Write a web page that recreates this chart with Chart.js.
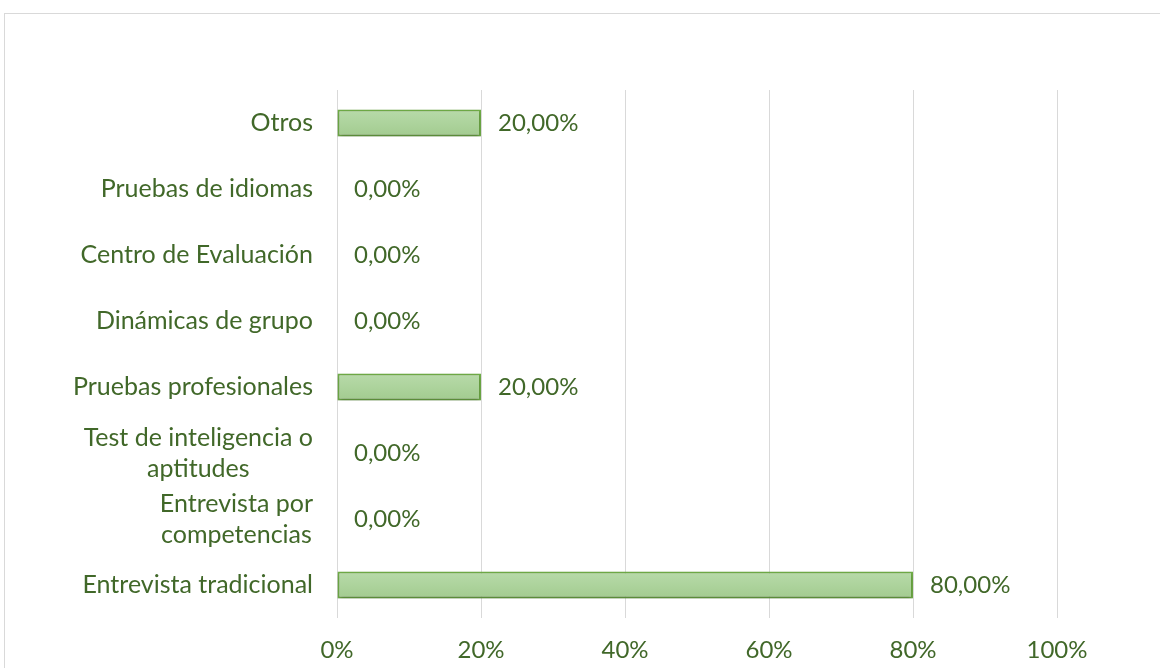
<!DOCTYPE html>
<html>
<head>
<meta charset="utf-8">
<script src="https://cdn.jsdelivr.net/npm/chart.js@4.4.1/dist/chart.umd.min.js"></script>
<style>
  html, body { margin:0; padding:0; background:#fff; }
  #wrap { position:relative; width:1160px; height:668px; overflow:hidden; }
  #frame { position:absolute; left:4px; top:13px; width:1200px; height:700px; border:1px solid #d9d9d9; box-sizing:border-box; }
  #chart { position:absolute; left:0; top:0; }
</style>
</head>
<body>
<div id="wrap">
  <div id="frame"></div>
  <canvas id="chart" width="1160" height="668"></canvas>
</div>
<script>
// categories, top to bottom as in the picture
var categories = [
  "Otros",
  "Pruebas de idiomas",
  "Centro de Evaluación",
  "Dinámicas de grupo",
  "Pruebas profesionales",
  ["Test de inteligencia o", "aptitudes"],
  ["Entrevista por", "competencias"],
  "Entrevista tradicional"
];
var values = [20, 0, 0, 0, 20, 0, 0, 80];
var xTicks = [0, 20, 40, 60, 80, 100];

var textColor = "#416829";
var fontFamily = "Lato, 'Open Sans', sans-serif";
var catFontSize = 25;
var valFontSize = 24;

//Bar fill gradient, light green
function barFill(context){
  var chart = context.chart;
  var yScale = chart.scales.y;
  if(!chart.chartArea || !yScale) return "#abd199";
  var cy = yScale.getPixelForValue(context.dataIndex);
  if(!isFinite(cy)) return "#abd199";
  var g = chart.ctx.createLinearGradient(0, cy - 14, 0, cy + 14);
  g.addColorStop(0, "#b8dbaa");
  g.addColorStop(1, "#a2cb8f");
  return g;
}

//Draw category labels (Excel centers wrapped lines) and value labels
var labelPlugin = {
  id: "labelPlugin",
  afterDatasetsDraw: function(chart){
    var ctx = chart.ctx;
    var yScale = chart.scales.y;
    var xScale = chart.scales.x;
    ctx.save();
    ctx.fillStyle = textColor;
    ctx.textBaseline = "middle";

    ctx.font = catFontSize + "px " + fontFamily;
    var rightEdge = chart.chartArea.left - 24;
    var lineH = 31;
    for(var i = 0; i < categories.length; i++){
      var lines = [].concat(categories[i]);
      var maxW = 0;
      for(var l = 0; l < lines.length; l++){
        maxW = Math.max(maxW, ctx.measureText(lines[l]).width);
      }
      var cx = rightEdge - maxW/2;
      var cy = yScale.getPixelForValue(i);
      var y0 = cy - (lines.length - 1) * lineH / 2;
      ctx.textAlign = "center";
      for(var k = 0; k < lines.length; k++){
        ctx.fillText(lines[k], cx, y0 + k * lineH);
      }
    }

    ctx.font = valFontSize + "px " + fontFamily;
    ctx.textAlign = "left";
    for(var j = 0; j < values.length; j++){
      var xEnd = xScale.getPixelForValue(values[j]);
      ctx.fillText(values[j].toFixed(2).replace(".", ",") + "%", xEnd + 17, yScale.getPixelForValue(j));
    }
    ctx.restore();
  }
};

//Soft shadow under the bars
var shadowPlugin = {
  id: "shadowPlugin",
  beforeDatasetsDraw: function(chart){
    chart.ctx.save();
    chart.ctx.shadowColor = "rgba(0,0,0,0.25)";
    chart.ctx.shadowBlur = 4;
    chart.ctx.shadowOffsetY = 2;
  },
  afterDatasetsDraw: function(chart){
    chart.ctx.restore();
  }
};

new Chart(document.getElementById("chart"), {
  type: "bar",
  data: {
    labels: categories,
    datasets: [{
      data: values,
      backgroundColor: barFill,
      borderColor: "#70ad47",
      borderWidth: 2,
      borderSkipped: false,
      barPercentage: 0.82,
      categoryPercentage: 0.5
    }]
  },
  options: {
    indexAxis: "y",
    responsive: false,
    animation: false,
    layout: { padding: { left: 0, top: 90, right: 103, bottom: 0 } },
    plugins: {
      legend: { display: false },
      tooltip: { enabled: false },
      title: { display: false }
    },
    scales: {
      x: {
        min: 0,
        max: 100,
        afterBuildTicks: function(scale){
          scale.ticks = xTicks.map(function(v){ return {value: v}; });
        },
        afterFit: function(scale){ scale.height = 50; },
        grid: { color: "#d9d9d9", lineWidth: 1, drawTicks: false },
        border: { display: false },
        ticks: {
          padding: 18,
          color: textColor,
          font: { family: fontFamily, size: valFontSize },
          callback: function(v){ return v + "%"; }
        }
      },
      y: {
        afterFit: function(scale){ scale.width = 337; },
        grid: { display: false },
        border: { display: false },
        ticks: { display: false }
      }
    }
  },
  plugins: [shadowPlugin, labelPlugin]
});
</script>
</body>
</html>
